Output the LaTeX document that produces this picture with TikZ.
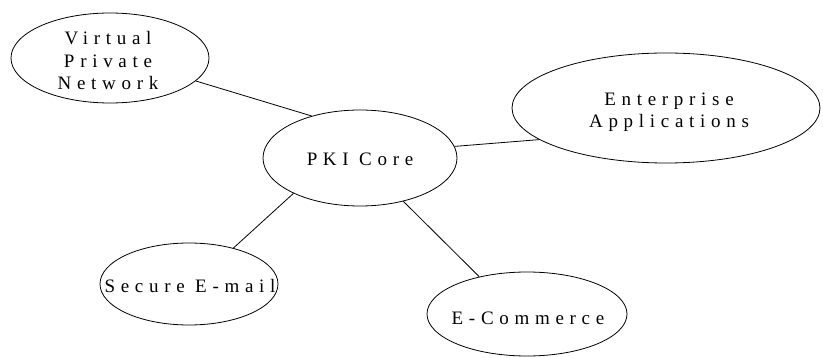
\documentclass[tikz,border=0pt]{standalone}
\usepackage{fontspec}
\setmainfont{Liberation Serif}
\newfontfamily\spacedfont[LetterSpace=30]{Liberation Serif}
\usetikzlibrary{shapes.geometric}
\begin{document}
\begin{tikzpicture}[x=1pt,y=-1pt,
  bubble/.style={draw, ellipse, inner sep=0pt, line width=0.8pt},
  bubbletext/.style={inner sep=0pt, align=center, font=\spacedfont\fontsize{19}{22.5}\selectfont},
  conn/.style={line width=0.8pt}]
\useasboundingbox (0,0) rectangle (823,358);
% ellipses
\node[bubble, minimum width=198pt, minimum height=90pt] (vpn) at (110,58) {};
\node[bubble, minimum width=308pt, minimum height=110pt] (ent) at (666,108) {};
\node[bubble, minimum width=194pt, minimum height=96pt] (pki) at (360,158) {};
\node[bubble, minimum width=178pt, minimum height=82pt] (mail) at (189,284) {};
\node[bubble, minimum width=200pt, minimum height=84pt] (ecom) at (527,314) {};
% texts
\node[bubbletext] (vpnt) at (108,61) {Virtual\\Private\\Network};
\node[bubbletext] (entt) at (669,112) {Enterprise\\Applications};
\node[bubbletext] (pkit) at (360,159) {PKI Core};
\node[bubbletext] (mailt) at (190,286) {Secure E-mail};
\node[bubbletext] (ecomt) at (528,318) {E-Commerce};
% connectors
\draw[conn] (vpn.-15) -- (pki.139);
\draw[conn] (pki.7) -- (ent.-166.5);
\draw[conn] (pki.-152.4) -- (mail.39);
\draw[conn] (pki.-45.7) -- (ecom.142.4);
\end{tikzpicture}
\end{document}
